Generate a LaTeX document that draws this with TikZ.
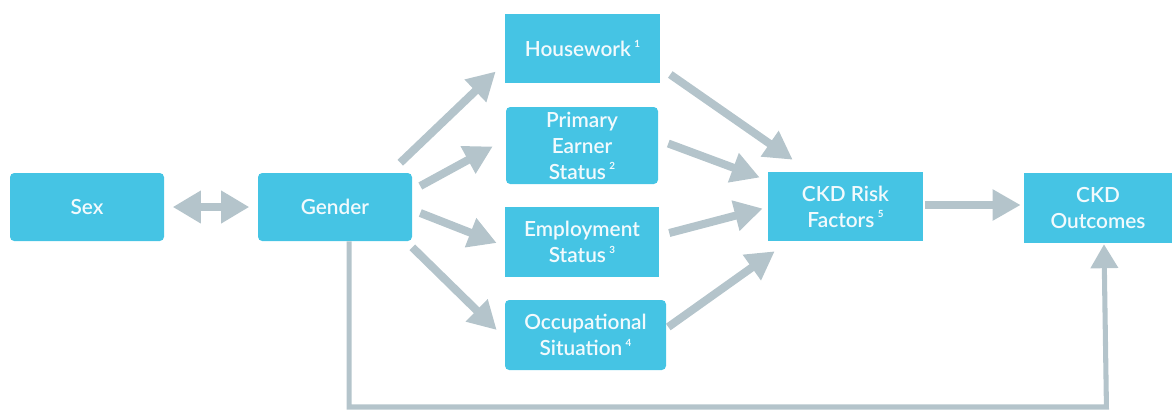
\documentclass[tikz,border=0pt]{standalone}
\usepackage{fontspec}
\setmainfont{Lato}[UprightFont=* Semibold,BoldFont=* Bold]
\usetikzlibrary{arrows.meta}
\definecolor{boxblue}{HTML}{45C4E4}
\definecolor{arrowgrey}{HTML}{B4C4CB}
\definecolor{labeltext}{HTML}{F2FAFD}
\newcommand{\fnote}[1]{\,\raisebox{0.45em}{\fontsize{7}{7}\selectfont\bfseries #1}}
\begin{document}
\begin{tikzpicture}[x=0.025cm,y=-0.025cm,
  box/.style={fill=boxblue,text=labeltext,align=center,inner sep=0pt,
    font=\fontsize{14.8}{18.5}\selectfont},
  rbox/.style={box,rounded corners=3pt},
  arr/.style={draw=arrowgrey,line width=5.7pt,
    -{Triangle[length=20pt,width=21pt]}},
  darr/.style={draw=arrowgrey,line width=5.7pt,
    {Triangle[length=20pt,width=22pt]}-{Triangle[length=20pt,width=22pt]}},
  thinarr/.style={draw=arrowgrey,line width=3.6pt,
    -{Triangle[length=17pt,width=19pt]}}]
\useasboundingbox (0,0) rectangle (1172,410);

% boxes: centre, width, height in pixel units
\node[rbox,minimum width=154*0.025cm,minimum height=68*0.025cm] (sex) at (87,207) {Sex};
\node[rbox,minimum width=154*0.025cm,minimum height=68*0.025cm] (gender) at (335,207) {Gender};
\node[box,minimum width=155*0.025cm,minimum height=69*0.025cm] (house) at (582.5,48.5) {Housework\fnote{1}};
\node[rbox,minimum width=152*0.025cm,minimum height=77*0.025cm] (earner) at (582,145.5) {Primary\\Earner\\Status\fnote{2}};
\node[box,minimum width=154*0.025cm,minimum height=70*0.025cm] (employ) at (582,242) {Employment\\Status\fnote{3}};
\node[rbox,minimum width=161*0.025cm,minimum height=70*0.025cm] (occup) at (585.5,335) {Occupational\\Situation\fnote{4}};
\node[box,minimum width=155*0.025cm,minimum height=69*0.025cm] (risk) at (845.5,206.5) {CKD Risk\\Factors\fnote{5}};
\node[box,minimum width=148*0.025cm,minimum height=70*0.025cm] (outcome) at (1098,208) {CKD\\Outcomes};

% connectors
\draw[darr] ([xshift=6]sex.east) -- ([xshift=-6]gender.west);
\draw[arr] ([shift={(-12,-10)}]gender.north east) -- ([shift={(-9,23)}]house.west);
\draw[arr] ([shift={(8,-21)}]gender.east) -- ([shift={(-13,1)}]earner.west);
\draw[arr] ([shift={(8,6)}]gender.east) -- ([shift={(-8,1)}]employ.west);
\draw[arr] ([shift={(0,6)}]gender.south east) -- ([shift={(-8,-5)}]occup.west);
\draw[arr] ([shift={(10,26)}]house.east) -- ([shift={(25,-12)}]risk.north west);
\draw[arr] ([shift={(10,-2)}]earner.east) -- ([shift={(-8,-29)}]risk.west);
\draw[arr] ([shift={(10,-9)}]employ.east) -- ([shift={(-5,2)}]risk.west);
\draw[arr] ([shift={(2,-8)}]occup.east) -- ([shift={(7,10)}]risk.south west);
\draw[arr] ([shift={(2,-1.5)}]risk.east) -- ([shift={(-3,-3)}]outcome.west);
\coordinate (c1) at ([xshift=10]gender.south |- 0,407);
\coordinate (c2) at ([xshift=6]outcome.south |- 0,407);
\draw[thinarr] ([xshift=10]gender.south) -- (c1) -- (c2) -- ([shift={(6,1)}]outcome.south);
\end{tikzpicture}
\end{document}
